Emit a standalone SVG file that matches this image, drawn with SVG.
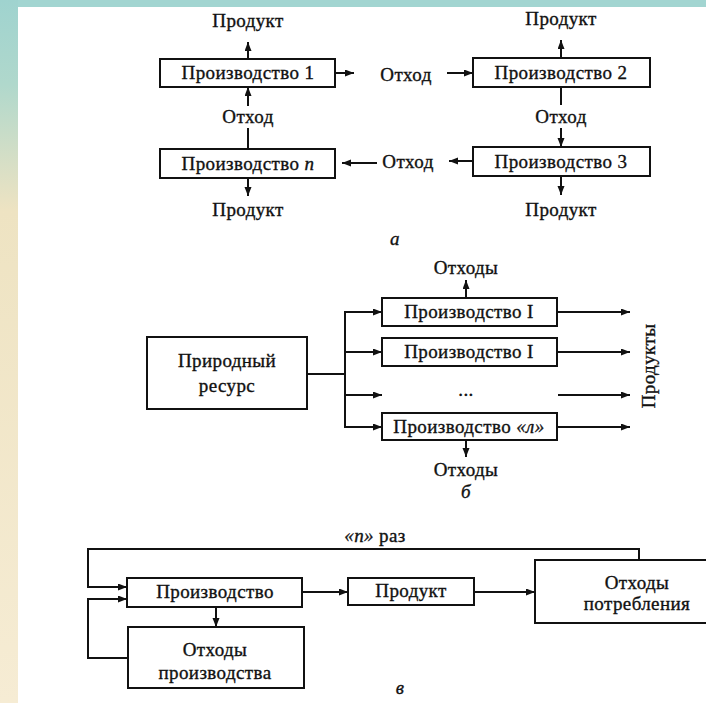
<svg xmlns="http://www.w3.org/2000/svg" width="706" height="703" viewBox="0 0 706 703">
<defs>
<linearGradient id="side" x1="0" y1="0" x2="0" y2="1">
<stop offset="0" stop-color="#9fd3cf"/>
<stop offset="0.12" stop-color="#b0d8cc"/>
<stop offset="0.3" stop-color="#eee3c2"/>
<stop offset="1" stop-color="#f6ecd4"/>
</linearGradient>
<marker id="ar" markerUnits="userSpaceOnUse" markerWidth="10" markerHeight="8" refX="9" refY="3.5" orient="auto">
<path d="M0,0 L9,3.5 L0,7 z" fill="#111"/>
</marker>
<style>
.bx{fill:#fff;stroke:#111;stroke-width:2}
.ln{fill:none;stroke:#111;stroke-width:2}
.ar{fill:none;stroke:#111;stroke-width:2;marker-end:url(#ar)}
text{font-family:"Liberation Serif","Times New Roman",serif;font-size:19px;fill:#111;stroke:#111;stroke-width:0.35;text-anchor:middle;letter-spacing:0.4px}
.it{font-style:italic}
</style>
</defs>
<rect width="706" height="703" fill="#fff"/>
<rect x="0" y="0" width="706" height="7" fill="#a2d5d1"/>
<rect x="0" y="0" width="18" height="703" fill="url(#side)"/>

<g id="connectors">
<line class="ar" x1="248" y1="59" x2="248" y2="42"/>
<line class="ar" x1="561" y1="58" x2="561" y2="40"/>
<line class="ar" x1="335" y1="73" x2="354" y2="73"/>
<line class="ar" x1="447" y1="73" x2="473" y2="73"/>
<line class="ln" x1="248" y1="149" x2="248" y2="128"/>
<line class="ar" x1="248" y1="106" x2="248" y2="87"/>
<line class="ln" x1="561" y1="87" x2="561" y2="105"/>
<line class="ar" x1="561" y1="128" x2="561" y2="147"/>
<line class="ar" x1="473" y1="161" x2="449" y2="161"/>
<line class="ar" x1="377" y1="163" x2="342" y2="163"/>
<line class="ar" x1="248" y1="178" x2="248" y2="196"/>
<line class="ar" x1="561" y1="176" x2="561" y2="195"/>
<line class="ar" x1="466" y1="298" x2="466" y2="280"/>
<line class="ln" x1="307" y1="374" x2="345" y2="374"/>
<line class="ln" x1="345" y1="311" x2="345" y2="428"/>
<polyline class="ar" points="344,312 382,312"/>
<line class="ar" x1="345" y1="352" x2="382" y2="352"/>
<line class="ar" x1="345" y1="395" x2="382" y2="395"/>
<polyline class="ar" points="344,427 382,427"/>
<line class="ar" x1="557" y1="312" x2="630" y2="312"/>
<line class="ar" x1="557" y1="352" x2="630" y2="352"/>
<line class="ar" x1="558" y1="395" x2="630" y2="395"/>
<line class="ar" x1="557" y1="427" x2="630" y2="427"/>
<line class="ar" x1="466" y1="440" x2="466" y2="457"/>
<path class="ar" d="M639,560 V549 H88 V587 H127"/>
<path class="ar" d="M128,658 H88 V599 H127"/>
<line class="ar" x1="216" y1="607" x2="216" y2="627"/>
<line class="ar" x1="302" y1="592" x2="348" y2="592"/>
<line class="ar" x1="474" y1="592" x2="535" y2="592"/>
</g>

<g id="a-labels">
<text x="248" y="27">Продукт</text>
<text x="561" y="25">Продукт</text>
<text x="406" y="81">Отход</text>
<text x="248" y="123">Отход</text>
<text x="561" y="123">Отход</text>
<text x="408" y="168">Отход</text>
<text x="248" y="216">Продукт</text>
<text x="561" y="216">Продукт</text>
<text class="it" x="395" y="245">а</text>
</g>
<g id="prod1"><rect class="bx" x="160" y="59" width="175" height="28"/><text x="248" y="79">Производство 1</text></g>
<g id="prod2"><rect class="bx" x="473" y="58" width="177" height="29"/><text x="561" y="79">Производство 2</text></g>
<g id="prodn"><rect class="bx" x="160" y="149" width="175" height="29"/><text x="248" y="170">Производство <tspan class="it">п</tspan></text></g>
<g id="prod3"><rect class="bx" x="473" y="147" width="177" height="29"/><text x="561" y="168">Производство 3</text></g>

<g id="b-labels">
<text x="466" y="274">Отходы</text>
<text x="466" y="396">...</text>
<text transform="translate(655,366) rotate(-90)">Продукты</text>
<text x="466" y="476">Отходы</text>
<text class="it" x="466" y="498">б</text>
</g>
<g id="resource"><rect class="bx" x="147" y="337" width="160" height="72"/><text x="227" y="367">Природный</text><text x="227" y="392">ресурс</text></g>
<g id="pb1"><rect class="bx" x="382" y="298" width="175" height="28"/><text x="469" y="318">Производство I</text></g>
<g id="pb2"><rect class="bx" x="382" y="338" width="175" height="28"/><text x="469" y="358">Производство I</text></g>
<g id="pbn"><rect class="bx" x="382" y="413" width="175" height="27"/><text x="469" y="433">Производство <tspan class="it">«л»</tspan></text></g>

<g id="c-labels">
<text x="375" y="542"><tspan class="it">«п»</tspan> раз</text>
<text class="it" x="400" y="694">в</text>
</g>
<g id="proizv"><rect class="bx" x="127" y="578" width="175" height="29"/><text x="215" y="598">Производство</text></g>
<g id="waste-prod"><rect class="bx" x="128" y="627" width="176" height="61"/><text x="215" y="656">Отходы</text><text x="215" y="679">производства</text></g>
<g id="product"><rect class="bx" x="348" y="578" width="126" height="27"/><text x="411" y="597">Продукт</text></g>
<g id="waste-cons"><rect class="bx" x="535" y="560" width="180" height="63"/><text x="637" y="589">Отходы</text><text x="637" y="610">потребления</text></g>
</svg>
